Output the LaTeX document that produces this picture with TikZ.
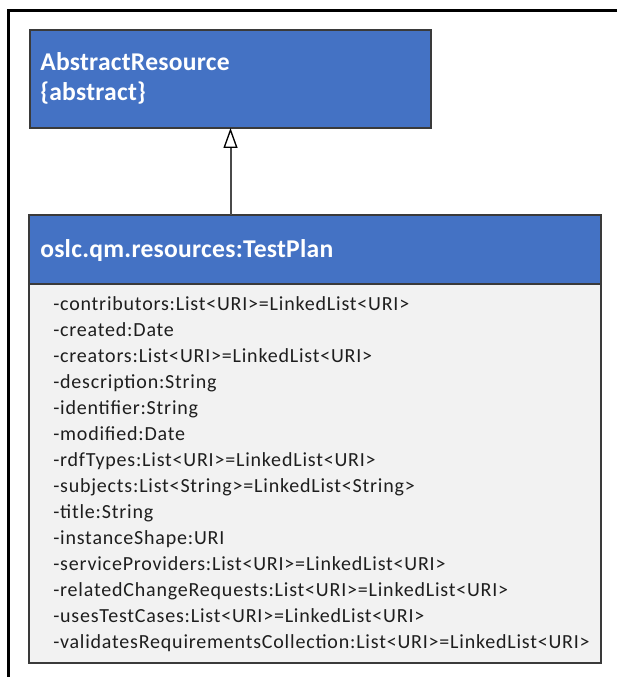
\documentclass[tikz,border=0pt]{standalone}
\usepackage{fontspec}
\setmainfont{Carlito}
\newfontfamily\attrfont[LetterSpace=4.0]{Carlito}
\newfontfamily\titlefont[LetterSpace=1.0]{Carlito}
\usetikzlibrary{arrows.meta}
\definecolor{umlblue}{HTML}{4472C4}
\definecolor{umlborder}{HTML}{3A3A3A}
\definecolor{umlbody}{HTML}{F2F2F2}
\definecolor{umltext}{HTML}{1E1E1E}
\definecolor{umlarrow}{HTML}{4A4A4A}
\begin{document}
\begin{tikzpicture}[x=0.75pt,y=-0.75pt,
  boxbase/.style={draw=umlborder, line width=1.5pt, inner sep=0pt, outer sep=0pt, anchor=north west},
  headbox/.style={boxbase, fill=umlblue},
  bodybox/.style={boxbase, fill=umlbody},
  headtext/.style={text=white, font=\titlefont\fontsize{19.2}{23}\selectfont\bfseries, inner sep=0pt, anchor=base west},
  attrtext/.style={text=umltext, font=\attrfont\fontsize{15}{19.5}\selectfont, inner sep=0pt, anchor=base west},
  generalization/.style={draw=umlarrow, line width=1.5pt, -{Triangle[open, length=15pt, width=10.5pt, line width=1pt, color=black, fill=white]}}
]
\useasboundingbox (0,0) rectangle (617,677);

% frame around the diagram
\draw[line width=2.25pt] (617,11) -- (8,11) -- (8,677);

% abstract superclass
\node[headbox, minimum width=300.75pt, minimum height=73.5pt] (abs) at (30,30) {};
\node[headtext] (absname) at (40,71) {AbstractResource};
\node[headtext] (abskw) at (40,101) {\{abstract\}};

% TestPlan class: header and attribute compartment
\node[headbox, minimum width=429pt, minimum height=51.75pt] (plan) at (29,215) {};
\node[bodybox, minimum width=429pt, minimum height=284.25pt] (attrs) at (29,284) {};
\node[headtext] (planname) at (40,257) {oslc.qm.resources:TestPlan};

\foreach \t [count=\i] in {
  -contributors:List<URI>=LinkedList<URI>,
  -created:Date,
  -creators:List<URI>=LinkedList<URI>,
  -description:String,
  -identifier:String,
  -modified:Date,
  -rdfTypes:List<URI>=LinkedList<URI>,
  -subjects:List<String>=LinkedList<String>,
  -title:String,
  -instanceShape:URI,
  -serviceProviders:List<URI>=LinkedList<URI>,
  -relatedChangeRequests:List<URI>=LinkedList<URI>,
  -usesTestCases:List<URI>=LinkedList<URI>,
  -validatesRequirementsCollection:List<URI>=LinkedList<URI>}
  \node[attrtext] (attr\i) at (53,{310+26*(\i-1)}) {\t};

% generalization: TestPlan inherits from AbstractResource
\draw[generalization] (plan.north -| abs.south) -- (abs.south);
\end{tikzpicture}
\end{document}
